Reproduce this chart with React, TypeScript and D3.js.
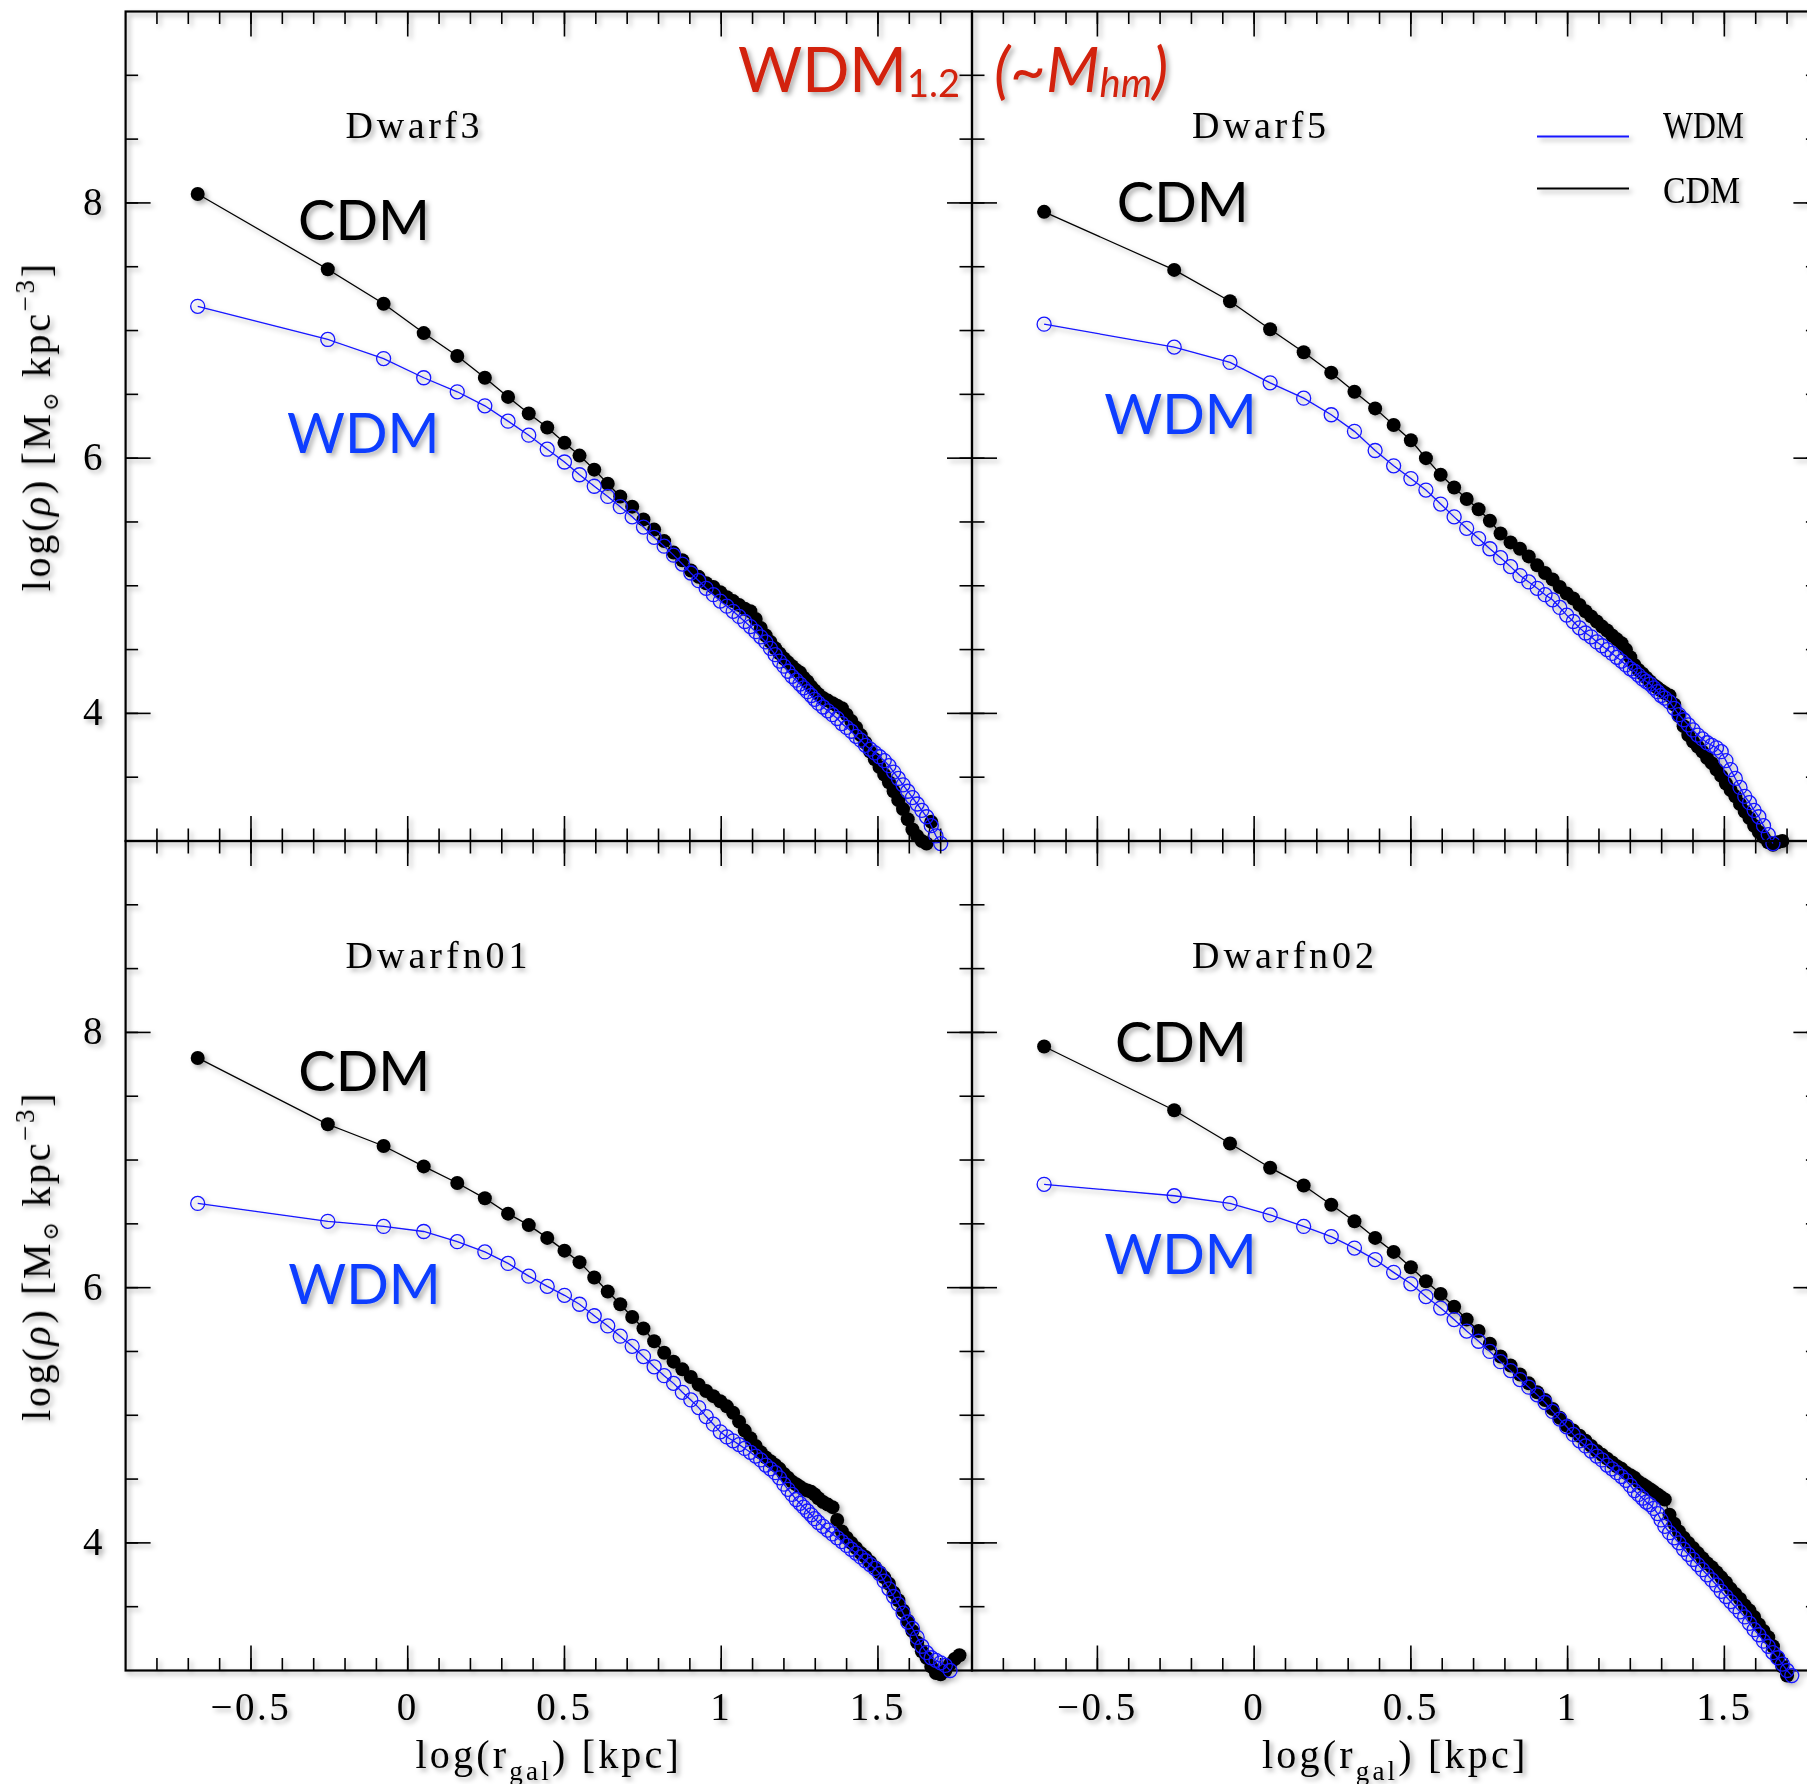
import React from "react";
import * as d3 from "d3";

// ---------- data ----------
const logR = [
  -0.67, -0.255, -0.077, 0.051, 0.158, 0.246, 0.32, 0.386, 0.445, 0.5,
  0.548, 0.595, 0.638, 0.678, 0.716, 0.752, 0.786, 0.818, 0.848, 0.876,
  0.903, 0.928, 0.952, 0.975, 0.997, 1.018, 1.038, 1.057, 1.075, 1.093,
  1.11, 1.126, 1.142, 1.157, 1.172, 1.186, 1.2, 1.213, 1.226, 1.239,
  1.251, 1.263, 1.275, 1.287, 1.298, 1.31, 1.325, 1.34, 1.355, 1.37,
  1.385, 1.4, 1.415, 1.43, 1.445, 1.46, 1.475, 1.49, 1.505, 1.52,
  1.535, 1.55, 1.565, 1.58, 1.595, 1.61, 1.625, 1.64, 1.655, 1.67,
  1.685, 1.7, 1.715, 1.73, 1.745, 1.76,
];

const cdmDwarf3 = [
  8.07, 7.48, 7.21, 6.98, 6.8, 6.63, 6.48, 6.35, 6.24, 6.12,
  6.02, 5.91, 5.8, 5.7, 5.62, 5.52, 5.44, 5.35, 5.26, 5.2,
  5.12, 5.07, 5.02, 4.99, 4.95, 4.91, 4.88, 4.85, 4.82, 4.8,
  4.74, 4.67, 4.61, 4.56, 4.51, 4.47, 4.43, 4.4, 4.37, 4.34,
  4.32, 4.28, 4.25, 4.21, 4.18, 4.15, 4.12, 4.1, 4.08, 4.06,
  4.04, 3.99, 3.94, 3.89, 3.83, 3.77, 3.7, 3.64, 3.58, 3.52,
  3.46, 3.39, 3.32, 3.25, 3.17, 3.09, 3.04, 3.0, 2.98, 3.15,
];
const wdmDwarf3 = [
  7.19, 6.93, 6.78, 6.63, 6.52, 6.41, 6.29, 6.18, 6.07, 5.97,
  5.87, 5.78, 5.7, 5.62, 5.54, 5.46, 5.38, 5.31, 5.24, 5.17,
  5.1, 5.04, 4.98, 4.93, 4.88, 4.84, 4.8, 4.76, 4.72, 4.68,
  4.64, 4.6, 4.56, 4.51, 4.46, 4.41, 4.37, 4.33, 4.29, 4.26,
  4.23, 4.2, 4.17, 4.14, 4.11, 4.08, 4.05, 4.02, 3.99, 3.96,
  3.92, 3.89, 3.86, 3.82, 3.79, 3.75, 3.72, 3.69, 3.66, 3.63,
  3.59, 3.54, 3.49, 3.44, 3.39, 3.34, 3.29, 3.24, 3.19, 3.12,
  3.04, 2.98,
];

const cdmDwarf5 = [
  7.93, 7.475, 7.23, 7.01, 6.83, 6.67, 6.52, 6.39, 6.26, 6.14,
  6.0, 5.87, 5.77, 5.68, 5.6, 5.51, 5.41, 5.34, 5.29, 5.23,
  5.16, 5.1, 5.05, 4.99, 4.94, 4.9, 4.85, 4.8, 4.76, 4.72,
  4.68, 4.65, 4.61, 4.58, 4.55, 4.5, 4.44, 4.38, 4.34, 4.31,
  4.28, 4.25, 4.22, 4.2, 4.18, 4.16, 4.14, 4.07, 3.98, 3.9,
  3.83, 3.78, 3.74, 3.7, 3.65, 3.61, 3.56, 3.51, 3.45, 3.4,
  3.35, 3.29, 3.23, 3.18, 3.12, 3.07, 3.03, 2.99, 2.97, 2.99,
  3.0,
];
const wdmDwarf5 = [
  7.05, 6.87, 6.75, 6.59, 6.47, 6.34, 6.21, 6.06, 5.94, 5.84,
  5.75, 5.64, 5.54, 5.45, 5.37, 5.29, 5.22, 5.15, 5.08, 5.03,
  4.98, 4.93, 4.89, 4.83, 4.77, 4.72, 4.67, 4.63, 4.6, 4.56,
  4.53, 4.5, 4.47, 4.44, 4.41, 4.38, 4.35, 4.33, 4.3, 4.27,
  4.25, 4.23, 4.2, 4.17, 4.14, 4.12, 4.09, 4.04, 3.99, 3.95,
  3.91, 3.87, 3.83, 3.8, 3.77, 3.75, 3.73, 3.7, 3.63, 3.56,
  3.49, 3.42, 3.35, 3.3, 3.24, 3.19, 3.12, 3.05, 2.98,
];

const cdmDwarfn01 = [
  7.8, 7.28, 7.11, 6.95, 6.82, 6.7, 6.58, 6.49, 6.39, 6.29,
  6.2, 6.08, 5.97, 5.87, 5.77, 5.68, 5.58, 5.49, 5.42, 5.36,
  5.3, 5.24, 5.19, 5.15, 5.11, 5.07, 5.02, 4.95, 4.88, 4.82,
  4.76, 4.71, 4.67, 4.64, 4.61, 4.58, 4.54, 4.51, 4.48, 4.46,
  4.44, 4.42, 4.41, 4.4, 4.38, 4.35, 4.32, 4.3, 4.28, 4.18,
  4.09, 4.04, 4.0, 3.96, 3.92, 3.89, 3.85, 3.81, 3.77, 3.73,
  3.68, 3.61, 3.55, 3.47, 3.39, 3.31, 3.22, 3.15, 3.1, 3.03,
  2.98, 2.97, 3.0, 3.05, 3.09, 3.12,
];
const wdmDwarfn01 = [
  6.66, 6.52, 6.48, 6.44, 6.36, 6.28, 6.19, 6.09, 6.01, 5.94,
  5.87, 5.78, 5.7, 5.62, 5.54, 5.46, 5.38, 5.31, 5.25, 5.18,
  5.12, 5.06, 4.99, 4.93, 4.87, 4.83, 4.8, 4.77, 4.74, 4.71,
  4.68, 4.65, 4.61, 4.58, 4.55, 4.51, 4.46, 4.42, 4.38, 4.34,
  4.31, 4.28, 4.25, 4.22, 4.19, 4.16, 4.13, 4.1, 4.07, 4.04,
  4.01, 3.98, 3.95, 3.92, 3.89, 3.86, 3.83, 3.8, 3.76, 3.7,
  3.64, 3.58, 3.52, 3.45, 3.38, 3.33, 3.26, 3.19, 3.14, 3.1,
  3.08, 3.06, 3.04, 3.0,
];

const cdmDwarfn02 = [
  7.89, 7.39, 7.13, 6.94, 6.8, 6.65, 6.52, 6.39, 6.28, 6.16,
  6.05, 5.95, 5.85, 5.75, 5.66, 5.56, 5.46, 5.39, 5.32, 5.25,
  5.18, 5.12, 5.05, 4.98, 4.92, 4.88, 4.84, 4.8, 4.76, 4.72,
  4.69, 4.66, 4.63, 4.6, 4.58, 4.55, 4.53, 4.51, 4.48, 4.46,
  4.44, 4.42, 4.4, 4.38, 4.36, 4.34, 4.22, 4.15, 4.09, 4.04,
  4.0, 3.96, 3.92, 3.88, 3.84, 3.81, 3.77, 3.73, 3.69, 3.64,
  3.6, 3.56, 3.51, 3.47, 3.42, 3.36, 3.31, 3.26, 3.19, 3.1,
  3.03, 2.96,
];
const wdmDwarfn02 = [
  6.81, 6.72, 6.66, 6.57, 6.48, 6.4, 6.31, 6.22, 6.12, 6.03,
  5.93, 5.84, 5.75, 5.66, 5.58, 5.5, 5.42, 5.35, 5.28, 5.22,
  5.16, 5.1, 5.03, 4.97, 4.91, 4.85, 4.8, 4.76, 4.72, 4.68,
  4.65, 4.61, 4.58, 4.55, 4.52, 4.49, 4.45, 4.41, 4.38, 4.35,
  4.32, 4.3, 4.27, 4.23, 4.18, 4.13, 4.08, 4.04, 4.0, 3.95,
  3.91, 3.87, 3.83, 3.79, 3.75, 3.71, 3.67, 3.62, 3.58, 3.54,
  3.5, 3.46, 3.42, 3.37, 3.32, 3.28, 3.23, 3.19, 3.14, 3.1,
  3.05, 3.0, 2.96,
];

const panelNames = ["Dwarf3", "Dwarf5", "Dwarfn01", "Dwarfn02"];
const cdmSeries = [cdmDwarf3, cdmDwarf5, cdmDwarfn01, cdmDwarfn02];
const wdmSeries = [wdmDwarf3, wdmDwarf5, wdmDwarfn01, wdmDwarfn02];
// annotation anchors in data units (x = log r, y = log rho)
const cdmLabelAt = [[-0.35, 7.71], [-0.438, 7.854], [-0.349, 7.54], [-0.444, 7.77]];
const wdmLabelAt = [[-0.385, 6.04], [-0.478, 6.19], [-0.381, 5.87], [-0.478, 6.11]];

const xMajorTicks = [-0.5, 0, 0.5, 1, 1.5];
const xTickLabels = ["\u22120.5", "0", "0.5", "1", "1.5"];
const yMajorTicks = [4, 6, 8];
const yTickLabels = ["4", "6", "8"];
const xDomain = [-0.9, 1.8];
const yDomain = [3, 9.5];

// ---------- layout ----------
const W = 1807;
const H = 1784;
const panelLeft = [125.6, 972];
const panelTop = [11.5, 841];
const panelW = 846.4;
const panelH = 829.5;
const MAJ = 25;
const MIN = 12.5;
const SERIF = "'Liberation Serif', 'DejaVu Serif', serif";
const SANS = "Lato, 'Open Sans', sans-serif";
const DATA_BLUE = "#1414ff";
const LABEL_BLUE = "#0a3cff";
const RED = "#d2200c";

function Panel({ idx }: { idx: number }) {
  const col = idx % 2;
  const row = Math.floor(idx / 2);
  const L = panelLeft[col];
  const T = panelTop[row];
  const R = L + panelW;
  const B = T + panelH;
  const x = d3.scaleLinear().domain(xDomain).range([L, R]);
  const y = d3.scaleLinear().domain(yDomain).range([B, T]);
  const xMinor = d3.range(-8, 18).map((i) => i / 10);
  const yMinor = d3.range(7, 19).map((i) => i / 2);
  const line = d3
    .line<[number, number]>()
    .x((d) => x(d[0]))
    .y((d) => y(d[1]));
  const cdm: [number, number][] = cdmSeries[idx].map((v, i) => [logR[i], v]);
  const wdm: [number, number][] = wdmSeries[idx].map((v, i) => [logR[i], v]);

  return (
    <g>
      {/* ticks */}
      <g stroke="#000" strokeWidth={1.6}>
        {xMinor.map((v) => (
          <g key={"xm" + v}>
            <line x1={x(v)} x2={x(v)} y1={B} y2={B - MIN} />
            <line x1={x(v)} x2={x(v)} y1={T} y2={T + MIN} />
          </g>
        ))}
        {xMajorTicks.map((v) => (
          <g key={"xM" + v}>
            <line x1={x(v)} x2={x(v)} y1={B} y2={B - MAJ} />
            <line x1={x(v)} x2={x(v)} y1={T} y2={T + MAJ} />
          </g>
        ))}
        {yMinor.map((v) => (
          <g key={"ym" + v}>
            <line x1={L} x2={L + MIN} y1={y(v)} y2={y(v)} />
            <line x1={R} x2={R - MIN} y1={y(v)} y2={y(v)} />
          </g>
        ))}
        {yMajorTicks.map((v) => (
          <g key={"yM" + v}>
            <line x1={L} x2={L + MAJ} y1={y(v)} y2={y(v)} />
            <line x1={R} x2={R - MAJ} y1={y(v)} y2={y(v)} />
          </g>
        ))}
      </g>
      <rect x={L} y={T} width={panelW} height={panelH} fill="none" stroke="#000" strokeWidth={2.2} />

      {/* tick labels */}
      {row === 1 &&
        xMajorTicks.map((v, i) => (
          <text key={"xl" + v} x={x(v)} y={B + 49} textAnchor="middle" fontFamily={SERIF} fontSize={39} letterSpacing={2.5} fill="#000">
            {xTickLabels[i]}
          </text>
        ))}
      {col === 0 &&
        yMajorTicks.map((v, i) => (
          <text key={"yl" + v} x={L - 23} y={y(v) + 12} textAnchor="end" fontFamily={SERIF} fontSize={39} fill="#000">
            {yTickLabels[i]}
          </text>
        ))}

      {/* axis titles */}
      {row === 1 && (
        <text x={(L + R) / 2} y={B + 97} textAnchor="middle" fontFamily={SERIF} fontSize={40} letterSpacing={3.2} fill="#000">
          log(r
          <tspan fontSize={27} dy={12}>gal</tspan>
          <tspan dy={-12}>) [kpc]</tspan>
        </text>
      )}
      {col === 0 && (
        <text
          transform={`translate(50,${(T + B) / 2}) rotate(-90)`}
          textAnchor="middle"
          fontFamily={SERIF}
          fontSize={40}
          letterSpacing={2.7}
          fill="#000"
        >
          log(<tspan fontStyle="italic">ρ</tspan>) [M
          <tspan fontSize={22} dy={8}>⊙</tspan>
          <tspan dy={-8}> kpc</tspan>
          <tspan fontSize={27} dy={-16}>−3</tspan>
          <tspan dy={16}>]</tspan>
        </text>
      )}

      {/* panel name */}
      <text x={L + 220} y={T + 126.5} fontFamily={SERIF} fontSize={38} fill="#000" textLength={panelNames[idx].length > 6 ? 182 : 134}>
        {panelNames[idx]}
      </text>

      {/* series */}
      <path d={line(cdm) || ""} fill="none" stroke="#000" strokeWidth={1.3} />
      {cdm.map((d, i) => (
        <circle key={"c" + i} cx={x(d[0])} cy={y(d[1])} r={7} fill="#000" />
      ))}
      <path d={line(wdm) || ""} fill="none" stroke={DATA_BLUE} strokeWidth={1.3} />
      {wdm.map((d, i) => (
        <circle key={"w" + i} cx={x(d[0])} cy={y(d[1])} r={7} fill="none" stroke={DATA_BLUE} strokeWidth={1.3} />
      ))}

      {/* annotations */}
      <text x={x(cdmLabelAt[idx][0])} y={y(cdmLabelAt[idx][1])} fontFamily={SANS} fontSize={56} fill="#000">
        CDM
      </text>
      <text x={x(wdmLabelAt[idx][0])} y={y(wdmLabelAt[idx][1])} fontFamily={SANS} fontSize={56} fill={LABEL_BLUE}>
        WDM
      </text>
    </g>
  );
}

export default function App() {
  return (
    <svg
      width={W}
      height={H}
      viewBox={`0 0 ${W} ${H}`}
      style={{ position: "absolute", left: 0, top: 0, background: "#fff" }}
      xmlns="http://www.w3.org/2000/svg"
    >
      <defs>
        <filter id="shadow" filterUnits="userSpaceOnUse" x={0} y={0} width={W} height={H}>
          <feDropShadow dx={3} dy={3} stdDeviation={2.4} floodColor="#000" floodOpacity={0.32} />
        </filter>
      </defs>
      <rect x={0} y={0} width={W} height={H} fill="#fff" />
      <g filter="url(#shadow)">
        {[0, 1, 2, 3].map((i) => (
          <Panel key={i} idx={i} />
        ))}

        {/* title */}
        <text x={738} y={92} fontFamily={SANS} fontSize={62} fill={RED}>
          WDM
          <tspan fontSize={38} dy={5}>1.2</tspan>
          <tspan dy={-5} dx={34} fontStyle="italic">(~M</tspan>
          <tspan fontSize={40} dy={5} fontStyle="italic">hm</tspan>
          <tspan dy={-5} fontStyle="italic">)</tspan>
        </text>

        {/* legend */}
        <line x1={1537} x2={1629} y1={136.5} y2={136.5} stroke={DATA_BLUE} strokeWidth={1.8} />
        <line x1={1537} x2={1629} y1={188.5} y2={188.5} stroke="#000" strokeWidth={1.8} />
        <text x={1663} y={138} fontFamily={SERIF} fontSize={38} fill="#000" textLength={81} lengthAdjust="spacingAndGlyphs">
          WDM
        </text>
        <text x={1663} y={203} fontFamily={SERIF} fontSize={38} fill="#000" textLength={77} lengthAdjust="spacingAndGlyphs">
          CDM
        </text>
      </g>
    </svg>
  );
}
